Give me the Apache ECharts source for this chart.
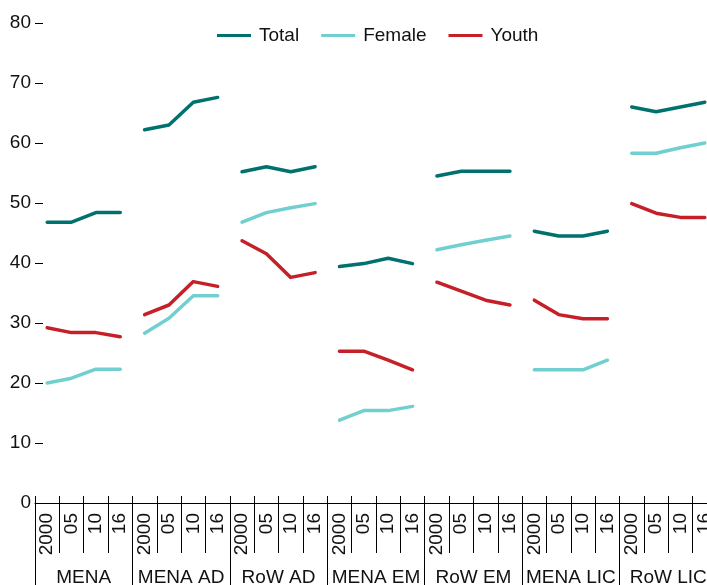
<!DOCTYPE html>
<html>
<head>
<meta charset="utf-8">
<script src="https://cdn.jsdelivr.net/npm/echarts@6/dist/echarts.min.js"></script>
<style>
html,body{margin:0;padding:0;background:#fff;}
#chart{width:707px;height:585px;}
</style>
</head>
<body>
<div id="chart"></div>
<script>
const groups = ['MENA', 'MENA AD', 'RoW AD', 'MENA EM', 'RoW EM', 'MENA LIC', 'RoW LIC'];
const years = ['2000', '05', '10', '16'];
const yTicks = [0, 10, 20, 30, 40, 50, 60, 70, 80];

const total = [
  [46.8, 46.8, 48.4, 48.4],
  [62.2, 63.0, 66.8, 67.6],
  [55.2, 56.05, 55.2, 56.05],
  [39.4, 39.9, 40.8, 39.9],
  [54.5, 55.3, 55.3, 55.3],
  [45.3, 44.5, 44.5, 45.3],
  [66.0, 65.2, 66.0, 66.8]
];
const female = [
  [20.0, 20.8, 22.3, 22.3],
  [28.3, 30.8, 34.55, 34.55],
  [46.8, 48.4, 49.2, 49.9],
  [13.8, 15.4, 15.4, 16.1],
  [42.2, 43.05, 43.8, 44.5],
  [22.2, 22.2, 22.2, 23.8],
  [58.3, 58.3, 59.2, 60.0]
];
const youth = [
  [29.2, 28.4, 28.4, 27.7],
  [31.4, 33.0, 36.9, 36.1],
  [43.7, 41.55, 37.6, 38.4],
  [25.3, 25.3, 23.8, 22.2],
  [36.8, 35.3, 33.8, 33.0],
  [33.8, 31.4, 30.7, 30.7],
  [49.9, 48.3, 47.6, 47.6]
];

const seriesDefs = [
  {name: 'Total', color: '#00716f', data: total},
  {name: 'Female', color: '#72cfd0', data: female},
  {name: 'Youth', color: '#c52028', data: youth}
];

const categories = [];
groups.forEach(() => years.forEach(y => categories.push(y)));

const FONT = "'Liberation Sans Narrow', 'Arial Narrow', 'Liberation Sans', sans-serif";
const FS = 19;

const series = [];
seriesDefs.forEach(def => {
  def.data.forEach((vals, gi) => {
    const arr = new Array(categories.length).fill('-');
    vals.forEach((v, k) => { arr[gi * years.length + k] = v; });
    series.push({
      name: def.name,
      type: 'line',
      xAxisIndex: 0,
      data: arr,
      showSymbol: false,
      symbol: 'none',
      connectNulls: false,
      color: def.color,
      lineStyle: {color: def.color, width: 3.5, cap: 'round', join: 'round'},
      silent: true,
      animation: false
    });
  });
});

const chart = echarts.init(document.getElementById('chart'), null, {renderer: 'canvas'});
chart.setOption({
  animation: false,
  backgroundColor: '#fff',
  textStyle: {fontFamily: FONT},
  legend: {
    data: seriesDefs.map(d => ({name: d.name, icon: 'rect', itemStyle: {color: d.color}})),
    left: 217,
    top: 26,
    padding: 0,
    itemWidth: 34,
    itemHeight: 3,
    itemGap: 22,
    textStyle: {fontFamily: FONT, fontSize: FS, color: '#111', padding: [0, 0, 0, 3]}
  },
  grid: {left: 35, top: 23, width: 682, height: 480, containLabel: false, outerBoundsMode: 'none'},
  xAxis: [
    {
      type: 'category',
      data: categories,
      position: 'bottom',
      boundaryGap: true,
      axisLine: {show: true, lineStyle: {color: '#000', width: 1}},
      axisTick: {show: true, interval: 0, length: 50, lineStyle: {color: '#000', width: 1}},
      axisLabel: {interval: 0, rotate: 90, margin: 10, fontFamily: FONT, fontSize: FS, color: '#111'},
      splitLine: {show: false}
    },
    {
      type: 'category',
      data: categories,
      position: 'bottom',
      boundaryGap: true,
      axisLine: {show: false},
      axisTick: {show: true, inside: true, interval: 0, length: 7, lineStyle: {color: '#000', width: 1}},
      axisLabel: {show: false},
      splitLine: {show: false}
    },
    {
      type: 'category',
      data: groups,
      position: 'bottom',
      boundaryGap: true,
      axisLine: {show: false},
      axisTick: {show: true, interval: 0, length: 90, lineStyle: {color: '#000', width: 1}},
      axisLabel: {interval: 0, margin: 65, fontFamily: FONT, fontSize: FS, color: '#111'},
      splitLine: {show: false}
    }
  ],
  yAxis: {
    type: 'value',
    min: yTicks[0],
    max: yTicks[yTicks.length - 1],
    interval: 10,
    axisLine: {show: false},
    axisTick: {show: true, inside: true, length: 8, lineStyle: {color: '#000', width: 1}},
    axisLabel: {margin: 4, fontFamily: FONT, fontSize: FS, color: '#111'},
    splitLine: {show: false}
  },
  series: series
});
</script>
</body>
</html>
